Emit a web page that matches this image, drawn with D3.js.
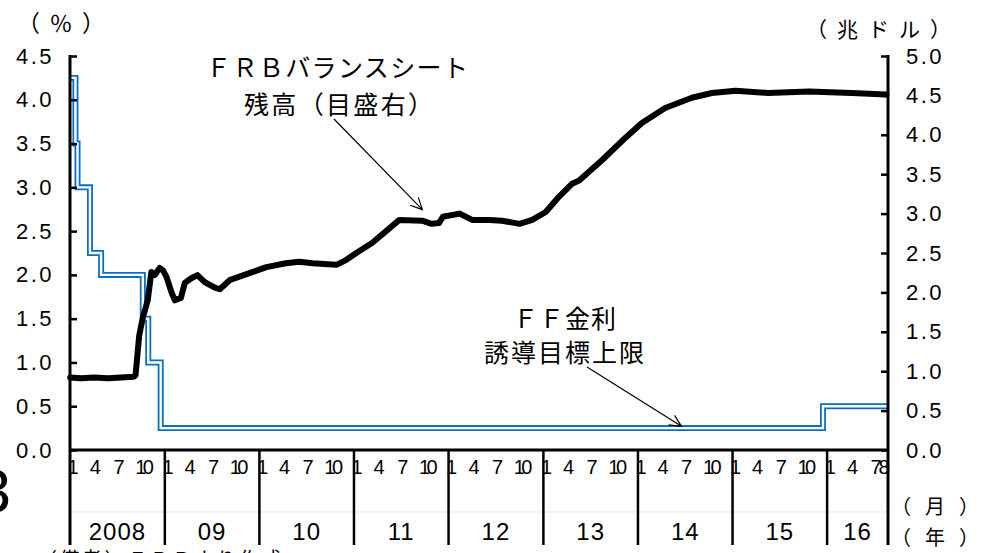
<!DOCTYPE html>
<html>
<head>
<meta charset="utf-8">
<script src="https://cdn.jsdelivr.net/npm/d3@7/dist/d3.min.js"></script>
<style>
  body { margin: 0; background: #fff; }
  svg { display: block; }
</style>
</head>
<body>
<div id="chart"></div>
<script>
// FF金利 誘導目標上限 (%), 変更日
var ffDates = ['2008-01-01', '2008-01-22', '2008-01-30', '2008-03-18', '2008-04-30',
  '2008-10-08', '2008-10-29', '2008-12-16', '2015-12-16'];
var ffRates = [4.25, 3.5, 3.0, 2.25, 2.0, 1.5, 1.0, 0.25, 0.5];

// FRBバランスシート残高 (兆ドル)
var bsDates = ['2008-01-02', '2008-02-13', '2008-04-02', '2008-05-28', '2008-07-16', '2008-09-03',
  '2008-09-10', '2008-09-24', '2008-10-08', '2008-10-27', '2008-11-10', '2008-11-23', '2008-12-12',
  '2008-12-25', '2009-01-07', '2009-01-28', '2009-02-09', '2009-03-04', '2009-03-19', '2009-04-13',
  '2009-05-07', '2009-06-04', '2009-07-13', '2009-08-01', '2009-09-10', '2009-10-16', '2009-12-07',
  '2010-01-28', '2010-04-13', '2010-06-04', '2010-07-25', '2010-10-25', '2010-12-01', '2011-01-10',
  '2011-03-13', '2011-06-25', '2011-09-21', '2011-10-28', '2011-11-25', '2011-12-10', '2012-02-13',
  '2012-04-01', '2012-06-07', '2012-07-25', '2012-10-01', '2012-11-19', '2013-01-10', '2013-03-01',
  '2013-04-22', '2013-05-19', '2013-08-16', '2013-11-16', '2014-01-16', '2014-04-16', '2014-07-28',
  '2014-10-13', '2015-01-13', '2015-05-19', '2015-10-22', '2016-04-04', '2016-08-17'];
var bsValues = [0.92, 0.91, 0.92, 0.91, 0.92, 0.93,
  0.95, 1.45, 1.68, 1.9, 2.26, 2.22, 2.31,
  2.28, 2.2, 1.99, 1.9, 1.93, 2.12, 2.18,
  2.22, 2.13, 2.06, 2.04, 2.16, 2.2, 2.26,
  2.32, 2.37, 2.39, 2.37, 2.35, 2.41, 2.5,
  2.63, 2.92, 2.91, 2.87, 2.88, 2.96, 3.0,
  2.92, 2.92, 2.91, 2.87, 2.92, 3.02, 3.21,
  3.38, 3.42, 3.68, 3.97, 4.15, 4.34, 4.47,
  4.53, 4.56, 4.53, 4.55, 4.53, 4.51];

// 目盛
var leftTicks = [0, 0.5, 1, 1.5, 2, 2.5, 3, 3.5, 4, 4.5];
var rightTicks = [0, 0.5, 1, 1.5, 2, 2.5, 3, 3.5, 4, 4.5, 5];
var years = [2008, 2009, 2010, 2011, 2012, 2013, 2014, 2015, 2016];
var yearLabels = ['2008', '09', '10', '11', '12', '13', '14', '15', '16'];
var monthLabels = [1, 4, 7, 10];
var lastMonthLabels = [1, 4, 7, 8];

var width = 981, height = 553;
var plotLeft = 70, plotRight = 888, plotTop = 56, plotBottom = 450, xAxisBottom = 545;
var jp = '"Noto Sans CJK JP", sans-serif';
var num = '"Liberation Sans", Arial, sans-serif';
var blue = '#0a6fc2';

var parse = d3.timeParse('%Y-%m-%d');
var xEnd = new Date(2016, 7, 23);

var x = d3.scaleTime()
  .domain([new Date(2008, 0, 1), xEnd])
  .range([plotLeft, plotRight]);
var yL = d3.scaleLinear().domain([0, 4.5]).range([plotBottom, plotTop]);
var yR = d3.scaleLinear().domain([0, 5]).range([plotBottom, plotTop]);

var svg = d3.select('#chart')
  .append('svg')
  .attr('width', width)
  .attr('height', height);

// 薄い補助線
svg.append('line')
  .attr('x1', plotLeft).attr('x2', plotRight)
  .attr('y1', 512).attr('y2', 512)
  .attr('stroke', '#e4e4e4')
  .attr('stroke-width', 1);

// FF金利 (二重線)
var ffData = ffDates.map(function (d, i) {
  return { date: parse(d), v: ffRates[i] };
});
ffData.push({ date: xEnd, v: ffRates[ffRates.length - 1] });
var ffLine = d3.line()
  .x(function (d) { return x(d.date); })
  .y(function (d) { return yL(d.v); })
  .curve(d3.curveStepAfter);
svg.append('path')
  .datum(ffData)
  .attr('d', ffLine)
  .attr('fill', 'none')
  .attr('stroke', blue)
  .attr('stroke-width', 6);
svg.append('path')
  .datum(ffData)
  .attr('d', ffLine)
  .attr('fill', 'none')
  .attr('stroke', '#fff')
  .attr('stroke-width', 2.4);

// バランスシート
var bsData = bsDates.map(function (d, i) {
  return { date: parse(d), v: bsValues[i] };
});
svg.append('path')
  .datum(bsData)
  .attr('d', d3.line()
    .x(function (d) { return x(d.date); })
    .y(function (d) { return yR(d.v); }))
  .attr('fill', 'none')
  .attr('stroke', '#000')
  .attr('stroke-width', 6)
  .attr('stroke-linejoin', 'round')
  .attr('stroke-linecap', 'round');

// 左軸
var axisL = d3.axisLeft(yL)
  .tickValues(leftTicks)
  .tickFormat(d3.format('.1f'))
  .tickSizeInner(-7)
  .tickSizeOuter(0)
  .tickPadding(16);
var gL = svg.append('g')
  .attr('transform', 'translate(' + plotLeft + ',0)')
  .call(axisL);

// 右軸
var axisR = d3.axisRight(yR)
  .tickValues(rightTicks)
  .tickFormat(d3.format('.1f'))
  .tickSizeInner(-7)
  .tickSizeOuter(0)
  .tickPadding(18);
var gR = svg.append('g')
  .attr('transform', 'translate(' + plotRight + ',0)')
  .call(axisR);

[gL, gR].forEach(function (g) {
  g.select('.domain').remove();
  g.selectAll('.tick line').attr('stroke', '#000').attr('stroke-width', 2.5);
  g.selectAll('.tick text')
    .attr('font-family', num)
    .attr('font-size', 22)
    .attr('letter-spacing', 2.5)
    .attr('fill', '#000');
});

// 軸線 (下まで延長)
[plotLeft, plotRight].forEach(function (xx) {
  svg.append('line')
    .attr('x1', xx).attr('x2', xx)
    .attr('y1', plotTop - 1).attr('y2', xAxisBottom)
    .attr('stroke', '#000')
    .attr('stroke-width', 3);
});
svg.append('line')
  .attr('x1', plotLeft).attr('x2', plotRight)
  .attr('y1', plotBottom).attr('y2', plotBottom)
  .attr('stroke', '#000')
  .attr('stroke-width', 3);

// 年の区切り
svg.selectAll('line.year')
  .data(years.slice(1))
  .enter()
  .append('line')
  .attr('class', 'year')
  .attr('x1', function (d) { return x(new Date(d, 0, 1)); })
  .attr('x2', function (d) { return x(new Date(d, 0, 1)); })
  .attr('y1', plotBottom)
  .attr('y2', xAxisBottom)
  .attr('stroke', '#000')
  .attr('stroke-width', 2.5);

// 月ラベル
years.forEach(function (yr, i) {
  var months = i === years.length - 1 ? lastMonthLabels : monthLabels;
  svg.selectAll(null)
    .data(months)
    .enter()
    .append('text')
    .attr('x', function (m) { return x(new Date(yr, m - 1, m === 1 ? 13 : 8)); })
    .attr('y', 467)
    .attr('dy', '0.35em')
    .attr('text-anchor', 'middle')
    .attr('font-family', num)
    .attr('font-size', 20)
    .attr('letter-spacing', function (m) { return m >= 10 ? -3.5 : 0; })
    .text(function (m) { return m; });
});

// 年ラベル
svg.selectAll('text.yearLabel')
  .data(years)
  .enter()
  .append('text')
  .attr('class', 'yearLabel')
  .attr('x', function (d, i) {
    var end = i === years.length - 1 ? xEnd : new Date(d + 1, 0, 1);
    return (x(new Date(d, 0, 1)) + x(end)) / 2;
  })
  .attr('y', 532)
  .attr('dy', '0.35em')
  .attr('text-anchor', 'middle')
  .attr('font-family', num)
  .attr('font-size', 24)
  .attr('letter-spacing', 1)
  .text(function (d, i) { return yearLabels[i]; });

// 単位・注記 (x0 = 文字枠の左端, w = 全体幅)
function label(txt, x0, cy, size, w) {
  return svg.append('text')
    .attr('x', x0)
    .attr('y', cy)
    .attr('dominant-baseline', 'central')
    .attr('font-family', jp)
    .attr('font-size', size)
    .attr('textLength', w)
    .attr('lengthAdjust', 'spacing')
    .text(txt);
}
label('（％）', 17, 22, 23, 88);
label('（兆ドル）', 806, 28, 21, 145);
label('（月）', 891, 505, 20, 88);
label('（年）', 891, 536, 20, 88);

label('ＦＲＢバランスシート', 206, 66, 25, 262);
label('残高（目盛右）', 244, 103, 25, 189);
label('ＦＦ金利', 513, 317, 25, 103);
label('誘導目標上限', 484, 351, 25, 160);

function arrow(x1, y1, x2, y2) {
  var a = Math.atan2(y2 - y1, x2 - x1);
  var len = 13, spread = 0.45;
  svg.append('path')
    .attr('d', 'M' + x1 + ',' + y1 + 'L' + x2 + ',' + y2 +
      'M' + (x2 - len * Math.cos(a - spread)) + ',' + (y2 - len * Math.sin(a - spread)) +
      'L' + x2 + ',' + y2 +
      'L' + (x2 - len * Math.cos(a + spread)) + ',' + (y2 - len * Math.sin(a + spread)))
    .attr('fill', 'none')
    .attr('stroke', '#000')
    .attr('stroke-width', 1.2);
}
arrow(334, 119, x(parse('2011-09-22')), yR(3.05));
arrow(587, 367, x(parse('2014-06-18')), yL(0.27));

// 下端の切れた文字
svg.append('text')
  .attr('x', 37)
  .attr('y', 567)
  .attr('font-family', jp)
  .attr('font-size', 20)
  .attr('letter-spacing', 2.5)
  .text('（備考）ＦＲＢより作成');
svg.append('text')
  .attr('x', 11)
  .attr('y', 512)
  .attr('text-anchor', 'end')
  .attr('font-family', num)
  .attr('font-size', 62)
  .text('3');
</script>
</body>
</html>
